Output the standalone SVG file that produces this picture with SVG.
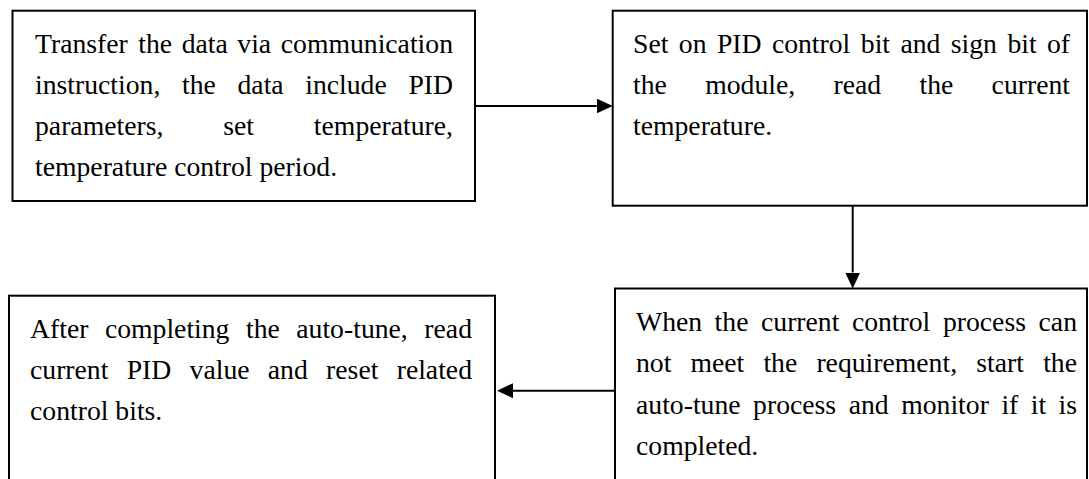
<svg xmlns="http://www.w3.org/2000/svg" width="1089" height="479" viewBox="0 0 1089 479">
<style>
.box{fill:#fff;stroke:#000;stroke-width:2}
.t{font-family:"Liberation Serif","Times New Roman",serif;font-size:27.7px;fill:#000}
.e{text-anchor:end}
.c{fill:none;stroke:#000;stroke-width:2}
</style>
<defs>
<marker id="ah" markerUnits="userSpaceOnUse" markerWidth="16" markerHeight="15" refX="0" refY="7.5" orient="auto">
<path d="M0,0 L16,7.5 L0,15 Z" fill="#000"/>
</marker>
</defs>
<rect width="1089" height="479" fill="#fff"/>
<g id="n1">
<rect class="box" x="12.5" y="10.7" width="462.5" height="190.3"/>
<text class="t" y="52.5"><tspan x="35">Transfer</tspan><tspan x="138.3">the</tspan><tspan x="181.7">data</tspan><tspan x="237.3">via</tspan><tspan x="453" text-anchor="end">communication</tspan></text>
<text class="t" y="93.5"><tspan x="35">instruction,</tspan><tspan x="182">the</tspan><tspan x="237.5">data</tspan><tspan x="305.2">include</tspan><tspan x="453" text-anchor="end">PID</tspan></text>
<text class="t" y="134.5"><tspan x="35">parameters,</tspan><tspan x="223.2">set</tspan><tspan x="453" text-anchor="end">temperature,</tspan></text>
<text class="t" x="35" y="175.5">temperature control period.</text>
</g>
<g id="n2">
<rect class="box" x="612.7" y="10.7" width="474.3" height="195"/>
<text class="t" y="52.5"><tspan x="633">Set</tspan><tspan x="678.8">on</tspan><tspan x="716.9">PID</tspan><tspan x="771.9">control</tspan><tspan x="860.8">bit</tspan><tspan x="900.4">and</tspan><tspan x="950.8">sign</tspan><tspan x="1007.4">bit</tspan><tspan x="1070" text-anchor="end">of</tspan></text>
<text class="t" y="93.5"><tspan x="633">the</tspan><tspan x="705.2">module,</tspan><tspan x="833.5">read</tspan><tspan x="919.5">the</tspan><tspan x="1070" text-anchor="end">current</tspan></text>
<text class="t" x="633" y="134.5">temperature.</text>
</g>
<g id="n3">
<rect class="box" x="615" y="288.5" width="472" height="200"/>
<text class="t" y="330.5"><tspan x="636">When</tspan><tspan x="714.6">the</tspan><tspan x="761">current</tspan><tspan x="851.9">control</tspan><tspan x="942.9">process</tspan><tspan x="1077" text-anchor="end">can</tspan></text>
<text class="t" y="372"><tspan x="636">not</tspan><tspan x="690.5">meet</tspan><tspan x="763.4">the</tspan><tspan x="816.4">requirement,</tspan><tspan x="976.3">start</tspan><tspan x="1077" text-anchor="end">the</tspan></text>
<text class="t" y="413.5"><tspan x="636">auto-tune</tspan><tspan x="753.1">process</tspan><tspan x="848.7">and</tspan><tspan x="901.2">monitor</tspan><tspan x="1001.4">if</tspan><tspan x="1030.8">it</tspan><tspan x="1077" text-anchor="end">is</tspan></text>
<text class="t" x="636" y="455">completed.</text>
</g>
<g id="n4">
<rect class="box" x="9" y="295.7" width="486" height="200"/>
<text class="t" y="337.5"><tspan x="30">After</tspan><tspan x="104.9">completing</tspan><tspan x="246">the</tspan><tspan x="296.3">auto-tune,</tspan><tspan x="472" text-anchor="end">read</tspan></text>
<text class="t" y="378.5"><tspan x="30">current</tspan><tspan x="126.7">PID</tspan><tspan x="189.6">value</tspan><tspan x="267.8">and</tspan><tspan x="326.1">reset</tspan><tspan x="472" text-anchor="end">related</tspan></text>
<text class="t" x="30" y="419.5">control bits.</text>
</g>
<g id="connectors">
<path class="c" d="M475,106 H596.7" marker-end="url(#ah)"/>
<path class="c" d="M852.7,205.7 V272.5" marker-end="url(#ah)"/>
<path class="c" d="M615,390.7 H513" marker-end="url(#ah)"/>
</g>
</svg>
